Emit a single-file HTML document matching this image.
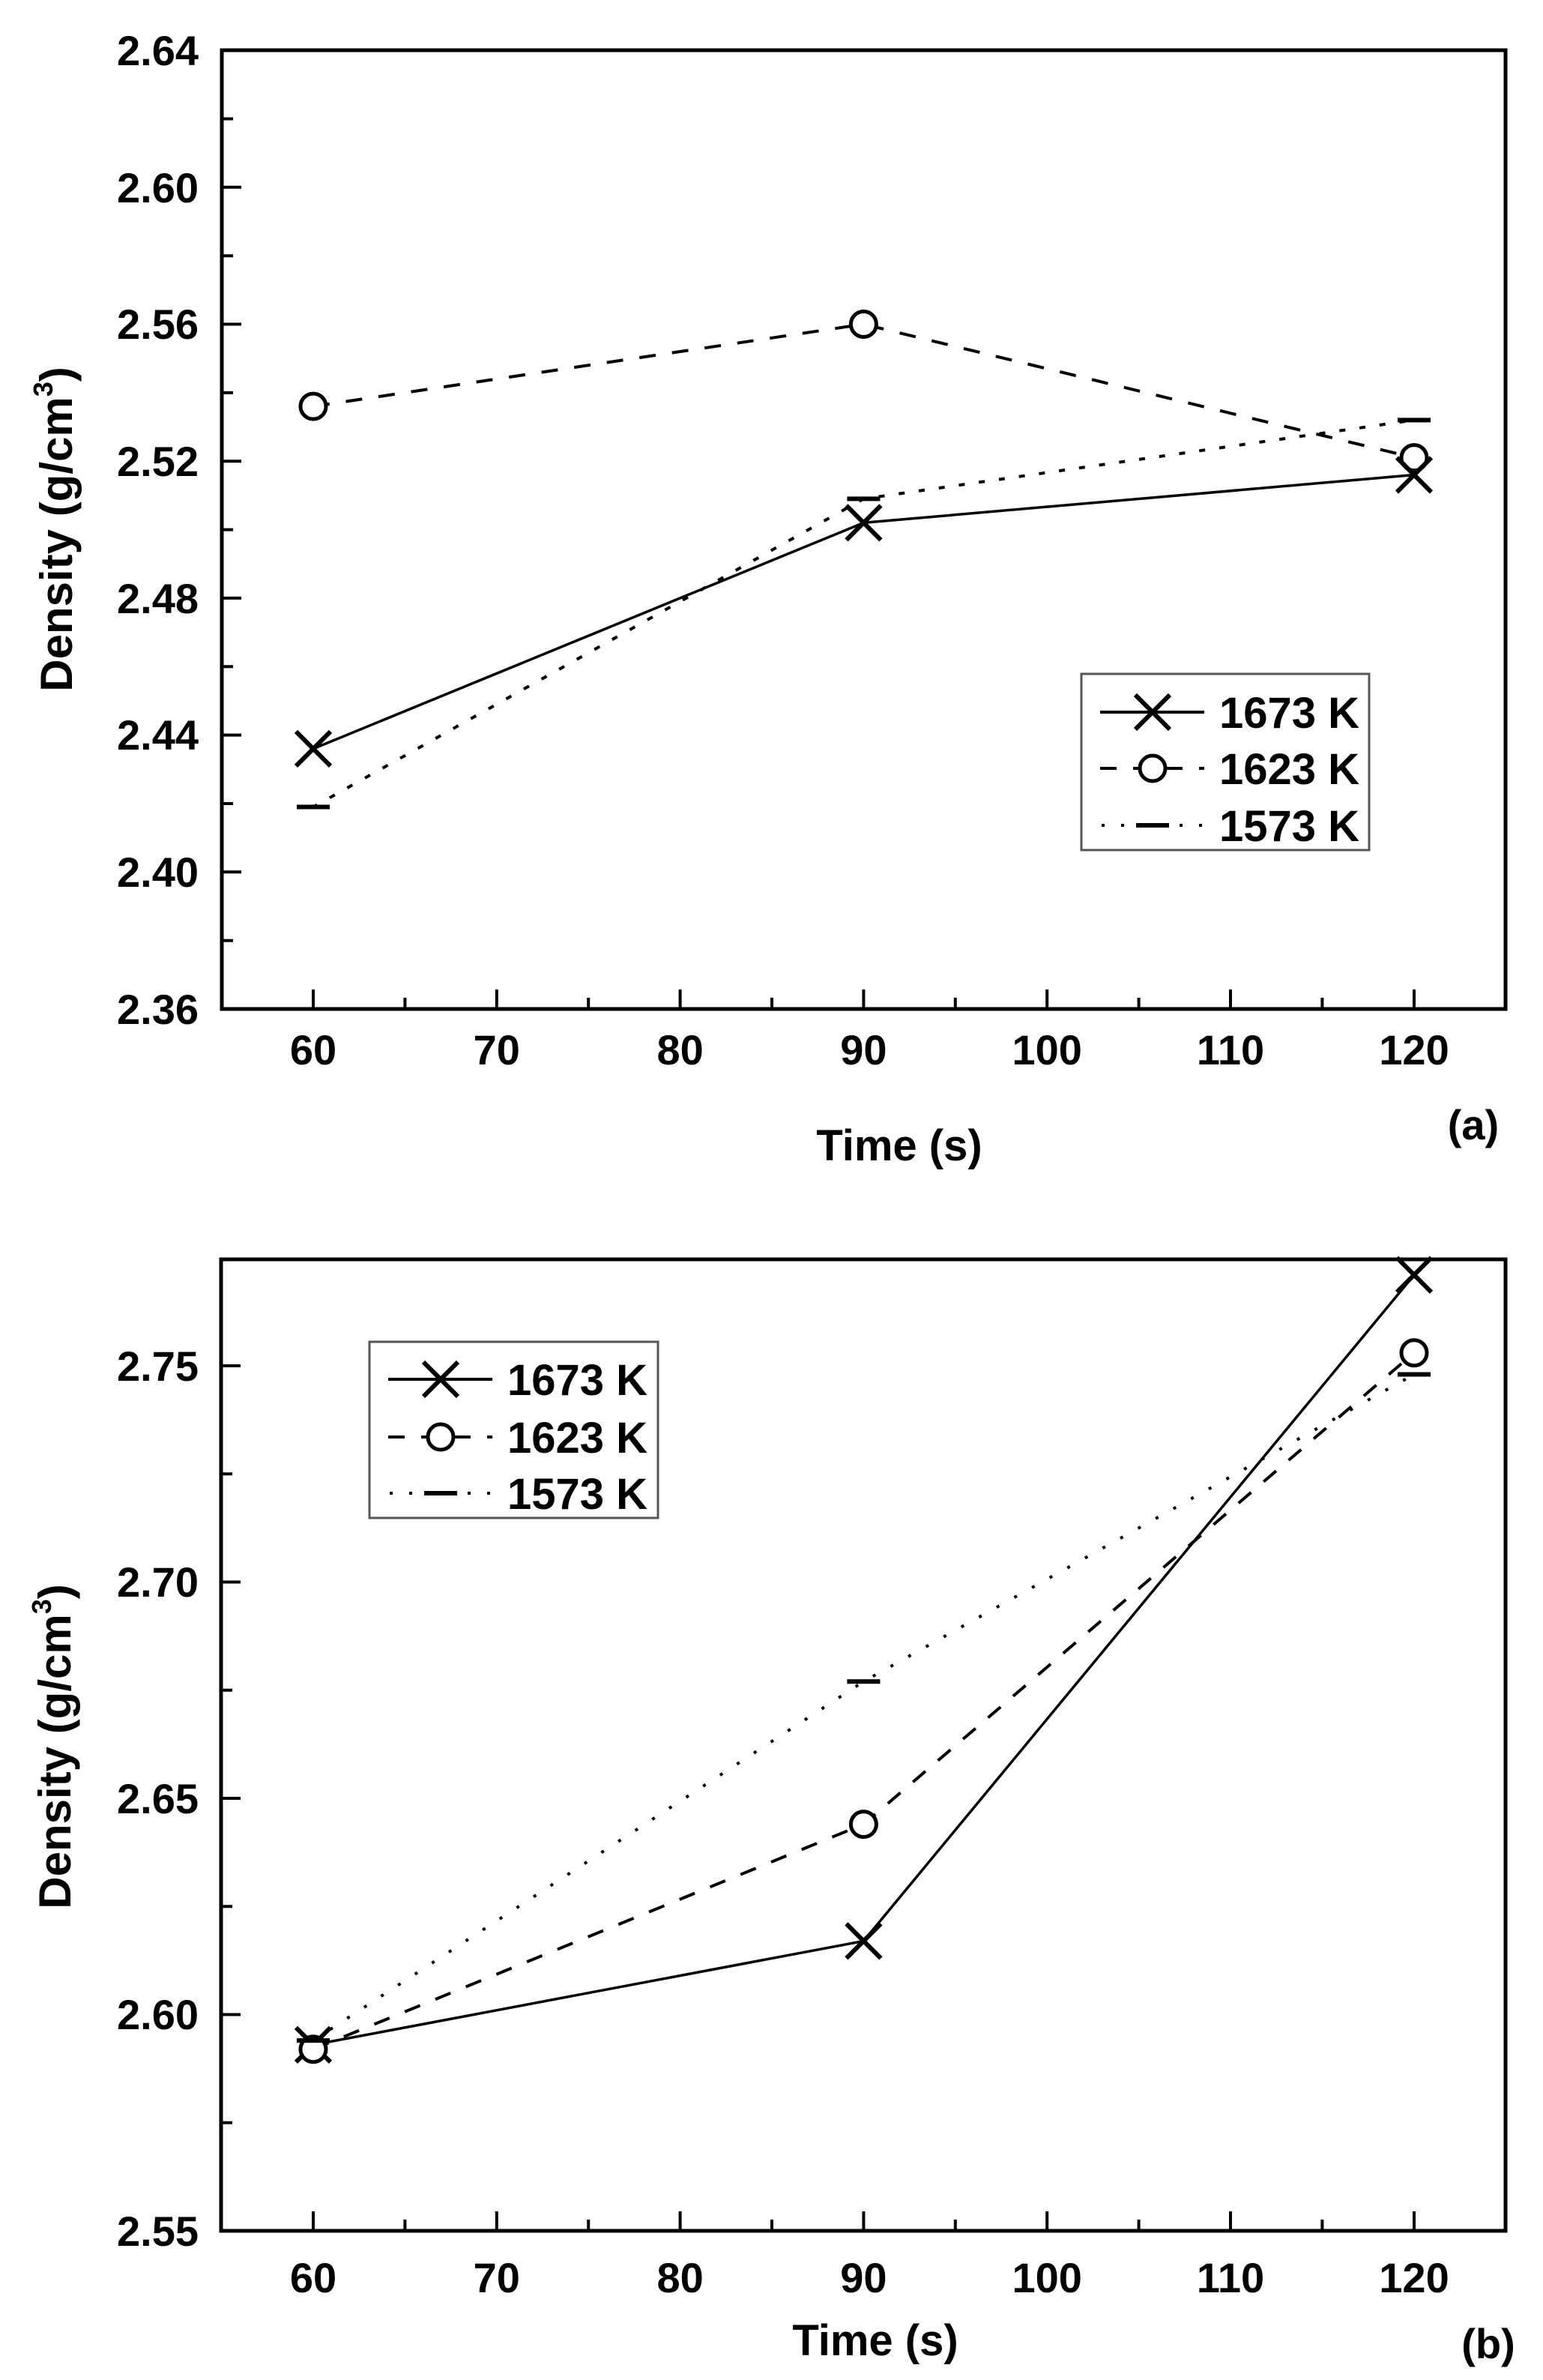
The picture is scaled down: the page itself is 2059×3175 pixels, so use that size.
<!DOCTYPE html>
<html><head><meta charset="utf-8"><style>
html,body{margin:0;padding:0;background:#fff;}
svg{display:block;}
text{font-family:"Liberation Sans",Arial,sans-serif;font-weight:bold;fill:#000;}
</style></head><body>
<svg width="2059" height="3175" viewBox="0 0 2059 3175" xmlns="http://www.w3.org/2000/svg">
<defs>
<g id="mx"><path d="M-23,-23 L23,23 M-23,23 L23,-23" stroke="#000" stroke-width="6" fill="none"/></g>
<g id="mo"><circle r="17" fill="#fff" stroke="#000" stroke-width="5"/></g>
<g id="md"><rect x="-22" y="-3" width="44" height="6" fill="#000"/></g>
</defs>

<!-- ============ Plot (a) ============ -->
<rect x="296" y="67" width="1713" height="1279" fill="none" stroke="#000" stroke-width="5"/>
<g stroke="#000" stroke-width="4">
<!-- y major -->
<path d="M296,1163.3h26M296,980.6h26M296,797.9h26M296,615.2h26M296,432.5h26M296,249.8h26"/>
<!-- y minor -->
<path d="M296,1254.7h15M296,1072h15M296,889.3h15M296,706.6h15M296,523.9h15M296,341.2h15M296,158.5h15"/>
<!-- x major -->
<path d="M418,1346v-26M662.8,1346v-26M907.6,1346v-26M1152.4,1346v-26M1397.2,1346v-26M1642,1346v-26M1887,1346v-26"/>
<!-- x minor -->
<path d="M540.4,1346v-15M785.2,1346v-15M1030,1346v-15M1274.8,1346v-15M1519.6,1346v-15M1764.4,1346v-15"/>
</g>
<g font-size="56" text-anchor="end">
<text x="265" y="1366">2.36</text><text x="265" y="1183">2.40</text><text x="265" y="1000">2.44</text>
<text x="265" y="818">2.48</text><text x="265" y="635">2.52</text><text x="265" y="452">2.56</text>
<text x="265" y="270">2.60</text><text x="265" y="87">2.64</text>
</g>
<g font-size="56" text-anchor="middle">
<text x="418" y="1420">60</text><text x="662.8" y="1420">70</text><text x="907.6" y="1420">80</text>
<text x="1152.4" y="1420">90</text><text x="1397.2" y="1420">100</text><text x="1642" y="1420">110</text><text x="1887" y="1420">120</text>
</g>
<text x="1200" y="1548" font-size="58" text-anchor="middle">Time (s)</text>
<text x="1966" y="1520" font-size="56" text-anchor="middle">(a)</text>
<text transform="translate(96,706) rotate(-90)" font-size="60" text-anchor="middle">Density (g/cm<tspan font-size="36" dy="-26">3</tspan><tspan dy="26">)</tspan></text>

<!-- series a -->
<polyline points="418,542.1 1152.4,432.5 1887,610.6" fill="none" stroke="#000" stroke-width="4" stroke-dasharray="22,22"/>
<polyline points="418,1076.5 1152.4,665.4 1887,560.4" fill="none" stroke="#000" stroke-width="4" stroke-dasharray="4,23" stroke-linecap="square"/>
<polyline points="418,998.9 1152.4,697.4 1887,633.5" fill="none" stroke="#000" stroke-width="3.5"/>
<use href="#mo" x="418" y="542.1"/><use href="#mo" x="1152.4" y="432.5"/><use href="#mo" x="1887" y="610.6"/>
<use href="#md" x="418" y="1076.5"/><use href="#md" x="1152.4" y="665.4"/><use href="#md" x="1887" y="560.4"/>
<use href="#mx" x="418" y="998.9"/><use href="#mx" x="1152.4" y="697.4"/><use href="#mx" x="1887" y="633.5"/>

<!-- legend a -->
<rect x="1443" y="899" width="384" height="235" fill="#fff" stroke="#555" stroke-width="3"/>
<line x1="1468" y1="950" x2="1607" y2="950" stroke="#000" stroke-width="4"/><use href="#mx" x="1538" y="950"/>
<line x1="1468" y1="1025" x2="1607" y2="1025" stroke="#000" stroke-width="4" stroke-dasharray="22,22"/><use href="#mo" x="1538" y="1025"/>
<line x1="1470" y1="1101" x2="1607" y2="1101" stroke="#000" stroke-width="4" stroke-dasharray="4,22"/><use href="#md" x="1538" y="1101"/>
<g font-size="58"><text x="1627" y="971">1673 K</text><text x="1627" y="1046">1623 K</text><text x="1627" y="1122">1573 K</text></g>

<!-- ============ Plot (b) ============ -->
<rect x="295" y="1680" width="1714" height="1296" fill="none" stroke="#000" stroke-width="5"/>
<g stroke="#000" stroke-width="4">
<path d="M295,2687.5h26M295,2399h26M295,2110.5h26M295,1822h26"/>
<path d="M295,2831.75h15M295,2543.25h15M295,2254.75h15M295,1966.25h15"/>
<path d="M418,2976v-26M662.8,2976v-26M907.6,2976v-26M1152.4,2976v-26M1397.2,2976v-26M1642,2976v-26M1887,2976v-26"/>
<path d="M540.4,2976v-15M785.2,2976v-15M1030,2976v-15M1274.8,2976v-15M1519.6,2976v-15M1764.4,2976v-15"/>
</g>
<g font-size="56" text-anchor="end">
<text x="265" y="2996">2.55</text><text x="265" y="2707">2.60</text><text x="265" y="2419">2.65</text>
<text x="265" y="2130">2.70</text><text x="265" y="1842">2.75</text>
</g>
<g font-size="56" text-anchor="middle">
<text x="418" y="3058">60</text><text x="662.8" y="3058">70</text><text x="907.6" y="3058">80</text>
<text x="1152.4" y="3058">90</text><text x="1397.2" y="3058">100</text><text x="1642" y="3058">110</text><text x="1887" y="3058">120</text>
</g>
<text x="1168" y="3142" font-size="58" text-anchor="middle">Time (s)</text>
<text x="1986" y="3146" font-size="56" text-anchor="middle">(b)</text>
<text transform="translate(94,2330) rotate(-90)" font-size="60" text-anchor="middle">Density (g/cm<tspan font-size="36" dy="-26">3</tspan><tspan dy="26">)</tspan></text>

<polyline points="418,2733.7 1152.4,2433.6 1887,1804.7" fill="none" stroke="#000" stroke-width="4" stroke-dasharray="22,22"/>
<polyline points="418,2722.1 1152.4,2243.2 1887,1833.5" fill="none" stroke="#000" stroke-width="4" stroke-dasharray="4,23"/>
<polyline points="418,2727.9 1152.4,2589.4 1887,1700.8" fill="none" stroke="#000" stroke-width="3.5"/>
<use href="#mx" x="418" y="2727.9"/><use href="#mx" x="1152.4" y="2589.4"/><use href="#mx" x="1887" y="1700.8"/>
<use href="#mo" x="418" y="2733.7"/><use href="#mo" x="1152.4" y="2433.6"/><use href="#mo" x="1887" y="1804.7"/>
<use href="#md" x="418" y="2722.1"/><use href="#md" x="1152.4" y="2243.2"/><use href="#md" x="1887" y="1833.5"/>

<!-- legend b -->
<rect x="493" y="1790" width="385" height="235" fill="#fff" stroke="#555" stroke-width="3"/>
<line x1="518" y1="1840" x2="657" y2="1840" stroke="#000" stroke-width="4"/><use href="#mx" x="588" y="1840"/>
<line x1="518" y1="1917" x2="657" y2="1917" stroke="#000" stroke-width="4" stroke-dasharray="22,22"/><use href="#mo" x="588" y="1917"/>
<line x1="520" y1="1992" x2="657" y2="1992" stroke="#000" stroke-width="4" stroke-dasharray="4,22"/><use href="#md" x="588" y="1992"/>
<g font-size="58"><text x="677" y="1861">1673 K</text><text x="677" y="1938">1623 K</text><text x="677" y="2013">1573 K</text></g>
</svg>
</body></html>
